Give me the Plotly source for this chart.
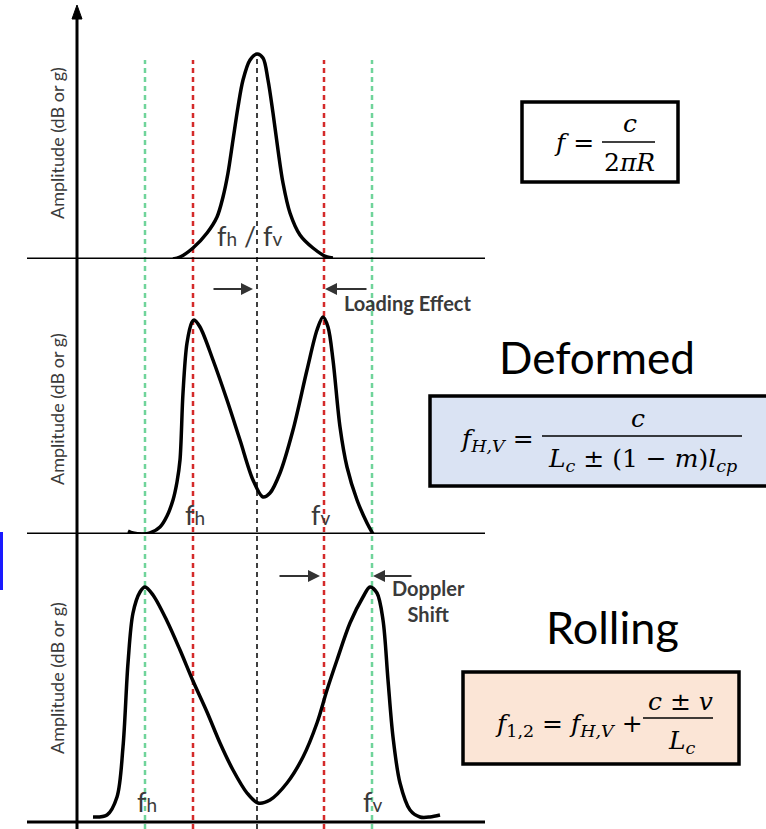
import plotly.graph_objects as go

W, H = 766, 829

# ---- data (frequency in arbitrary units, amplitude in arbitrary units) ----
# Panel 1: undeformed single resonance
free_f = [96, 103, 116, 130, 140, 146, 151, 156, 161, 166, 173, 180, 186, 191, 196, 201, 206, 213, 223, 236, 250, 256]
free_a = [0, 2, 11, 26, 42, 62, 86, 119, 152, 179, 199, 205, 201, 179, 146, 109, 76, 46, 24, 11, 2, 1]

# Panel 2: deformed (split) resonance
def_f = [51, 56, 66, 73, 83, 90, 96, 100, 103, 106, 110, 115, 117, 123, 136, 150, 163, 176, 186, 193, 203, 216, 230, 240, 246, 251, 256, 263, 270, 280, 290, 296]
def_a = [3, 1, 0, 1, 7, 18, 34, 52, 74, 141, 191, 212, 214, 207, 174, 134, 94, 54, 37, 41, 61, 104, 164, 204, 217, 207, 174, 107, 67, 34, 11, 0]

# Panel 3: rolling (doppler shifted) resonance
roll_f = [16, 30, 40, 46, 51, 56, 63, 68, 76, 90, 103, 116, 130, 143, 156, 170, 181, 193, 210, 226, 240, 250, 260, 273, 286, 293, 300, 306, 311, 316, 323, 333, 343, 353, 363]
roll_a = [5, 7, 25, 75, 159, 209, 230, 235, 227, 201, 172, 141, 110, 79, 52, 29, 19, 22, 39, 65, 99, 132, 162, 199, 225, 235, 229, 202, 142, 85, 39, 12, 5, 5, 7]

f_center = 180
f_loaded = [116, 247]
f_rolling = [68, 295]

panel_titles = ["Amplitude (dB or g)"] * 3

def P(px, py):
    return px / W, 1 - py / H

fig = go.Figure()
for f, a, ya in [(free_f, free_a, "y"), (def_f, def_a, "y2"), (roll_f, roll_a, "y3")]:
    fig.add_trace(go.Scatter(x=f, y=a, yaxis=ya, mode="lines",
                             line=dict(color="black", width=3.5, shape="spline", smoothing=0.9),
                             showlegend=False, hoverinfo="skip"))

shapes = []
top_line = 1 - 60 / H
for fv in f_rolling:
    shapes.append(dict(type="line", xref="x", yref="paper", x0=fv, x1=fv, y0=0, y1=top_line,
                       line=dict(color="#6fd49a", width=2.5, dash="5px,4px"), layer="below"))
for fv in f_loaded:
    shapes.append(dict(type="line", xref="x", yref="paper", x0=fv, x1=fv, y0=0, y1=top_line,
                       line=dict(color="#d42a2a", width=2.5, dash="5px,4px"), layer="below"))
shapes.append(dict(type="line", xref="x", yref="paper", x0=f_center, x1=f_center, y0=0, y1=1 - 56 / H,
                   line=dict(color="black", width=1.5, dash="5px,4px"), layer="below"))

for ya in ["y", "y2", "y3"]:
    shapes.append(dict(type="line", xref="x", yref=ya, x0=-50, x1=408, y0=0, y1=0,
                       line=dict(color="black", width=3)))
shapes.append(dict(type="line", xref="x", yref="paper", x0=0, x1=0, y0=0, y1=1 - 16 / H,
                   line=dict(color="black", width=3)))
x0p, y0p = P(72, 19)
x1p, y1p = P(77, 5)
x2p, _ = P(82, 19)
shapes.append(dict(type="path", xref="paper", yref="paper",
                   path=f"M {x0p} {y0p} L {x1p} {y1p} L {x2p} {y0p} Z",
                   fillcolor="black", line=dict(color="black", width=1)))

bx0, by0 = P(0, 532)
bx1, by1 = P(3, 590)
shapes.append(dict(type="rect", xref="paper", yref="paper", x0=bx0, x1=bx1, y0=by1, y1=by0,
                   fillcolor="#1a1aff", line=dict(width=0)))

def box(px0, py0, px1, py1, fill):
    a0, b0 = P(px0, py0)
    a1, b1 = P(px1, py1)
    shapes.append(dict(type="rect", xref="paper", yref="paper", x0=a0, x1=a1, y0=b1, y1=b0,
                       fillcolor=fill, line=dict(color="black", width=3.5), layer="below"))

def bar(px0, px1, py):
    a0, b = P(px0, py)
    a1, _ = P(px1, py)
    shapes.append(dict(type="line", xref="paper", yref="paper", x0=a0, x1=a1, y0=b, y1=b,
                       line=dict(color="black", width=1.5)))

box(522, 102, 678, 182, "white")
box(430, 396, 775, 486, "#dae3f3")
box(463, 672, 739, 764, "#fbe5d6")
bar(602, 655, 142)
bar(542, 742, 436)
bar(643, 713, 718)

ann = []
def T(text, px, py, size, xanchor="center", family="DejaVu Serif", color="black", **kw):
    x, y = P(px, py)
    ann.append(dict(text=text, x=x, y=y, xref="paper", yref="paper", showarrow=False,
                    xanchor=xanchor, yanchor="middle", font=dict(family=family, size=size, color=color), **kw))

FS = 25
T("<i>f</i> =", 596, 143, FS, xanchor="right")
T("<i>c</i>", 630, 123, FS)
T("2<i>πR</i>", 629, 162, FS)

T("Deformed", 597, 357, 44, family="Lato")
T("<i>f</i><sub><i>H,V</i></sub> =", 536, 440, FS, xanchor="right")
T("<i>c</i>", 638, 418, FS)
T("<i>L</i><sub><i>c</i></sub> ± (1 − <i>m</i>)<i>l</i><sub><i>cp</i></sub>", 642, 460, FS)

T("Rolling", 612, 627, 45, family="Lato")
T("<i>f</i><sub>1,2</sub> = <i>f</i><sub><i>H,V</i></sub> +", 645, 725, FS, xanchor="right")
T("<i>c</i> ± <i>v</i>", 680, 701, FS)
T("<i>L</i><sub><i>c</i></sub>", 682, 742, FS)

LC = "#3a3a3a"
def L(text, f, a, ya, size=27):
    ann.append(dict(text=text, x=f, y=a, xref="x", yref=ya, showarrow=False,
                    font=dict(family="Lato", size=size, color=LC)))

sm = "<span style='font-size:19px'>{}</span>"
L("f" + sm.format("h") + " / f" + sm.format("v"), 173, 24, "y")
L("f" + sm.format("h"), 118, 20, "y2")
L("f" + sm.format("v"), 243, 20, "y2")
L("f" + sm.format("h"), 70, 21, "y3")
L("f" + sm.format("v"), 295, 21, "y3")
L("<b>Loading Effect</b>", 330, 231, "y2", size=20)
L("<b>Doppler</b><br><b>Shift</b>", 351, 221, "y3", size=20)

for ya, a in [("y", 116), ("y2", 125), ("y3", 144)]:
    ann.append(dict(text=panel_titles[0], x=-20, y=a, xref="x", yref=ya, showarrow=False,
                    textangle=-90, font=dict(family="Lato", size=18, color=LC)))

def arrow(f_tail, f_head, a, ya):
    ann.append(dict(x=f_head, y=a, ax=f_tail, ay=a, xref="x", yref=ya, axref="x", ayref=ya,
                    text="", showarrow=True, arrowhead=2, arrowsize=1.2, arrowwidth=2, arrowcolor="#333"))

arrow(135, 176, 245, "y2")
arrow(291, 248, 245, "y2")
arrow(201, 243, 246, "y3")
arrow(336, 296, 246, "y3")

fig.update_layout(
    width=W, height=H, margin=dict(l=0, r=0, t=0, b=0),
    paper_bgcolor="white", plot_bgcolor="white",
    xaxis=dict(range=[-77, 689], visible=False, fixedrange=True),
    yaxis=dict(domain=[1 - 259 / H, 1], range=[0, 259], visible=False, anchor="x"),
    yaxis2=dict(domain=[1 - 534 / H, 1 - 259 / H], range=[0, 275], visible=False, anchor="x"),
    yaxis3=dict(domain=[0, 1 - 534 / H], range=[-7, 288], visible=False, anchor="x"),
    shapes=shapes, annotations=ann, showlegend=False,
)
fig.write_html("out.html")
